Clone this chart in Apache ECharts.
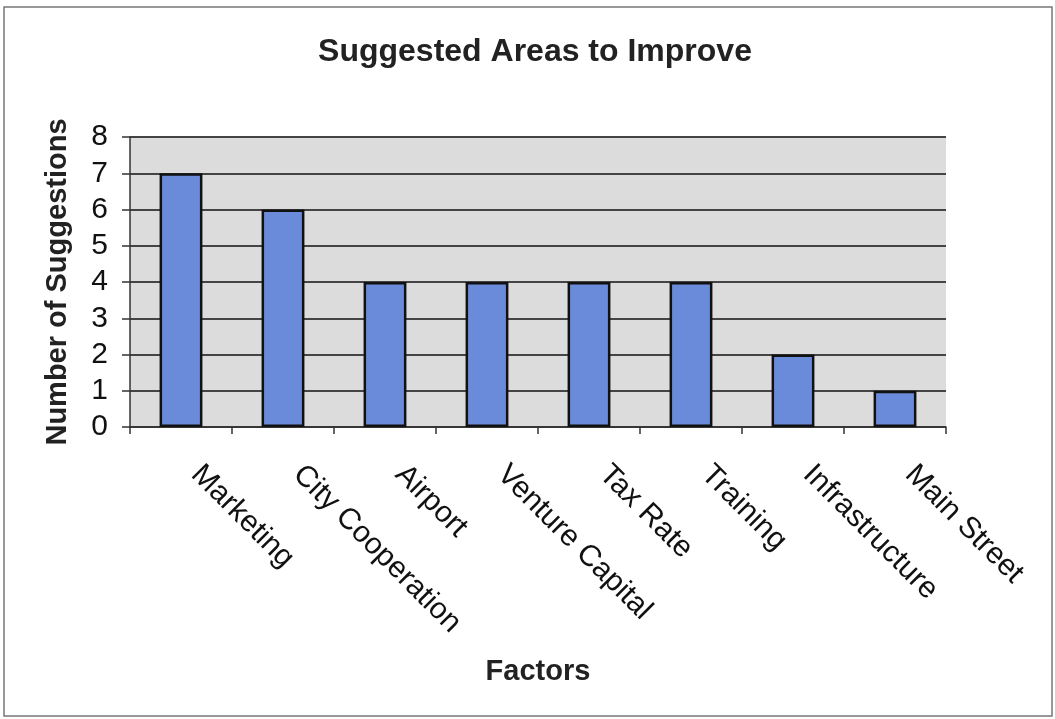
<!DOCTYPE html>
<html>
<head>
<meta charset="utf-8">
<script src="https://cdn.jsdelivr.net/npm/echarts@6/dist/echarts.min.js"></script>
<style>
  html, body { margin: 0; padding: 0; background: #ffffff; }
  #chart { width: 1055px; height: 719px; }
</style>
</head>
<body>
<div id="chart"></div>
<script>
// Factors named by respondents and how often each was suggested
const categories = ['Marketing', 'City Cooperation', 'Airport', 'Venture Capital', 'Tax Rate', 'Training', 'Infrastructure', 'Main Street'];
const suggestions = [7, 6, 4, 4, 4, 4, 2, 1];
const yTicks = [0, 1, 2, 3, 4, 5, 6, 7, 8];

const chart = echarts.init(document.getElementById('chart'));
const sans = 'Arial, "Liberation Sans", sans-serif';

chart.setOption({
  backgroundColor: '#ffffff',
  animation: false,
  title: {
    text: 'Suggested Areas to Improve',
    left: 530,
    top: 31,
    textAlign: 'center',
    textStyle: { fontFamily: sans, fontWeight: 'bold', fontSize: 32, color: '#222222' }
  },
  graphic: [
    {
      type: 'rect',
      shape: { x: 4, y: 7, width: 1048, height: 709 },
      style: { fill: 'none', stroke: '#777777', lineWidth: 1.5 }
    }
  ],
  grid: {
    left: 130, right: 109, top: 137, bottom: 292,
    show: true, backgroundColor: '#dcdcdc', borderWidth: 0
  },
  xAxis: {
    type: 'category',
    data: categories,
    name: 'Factors',
    nameLocation: 'middle',
    nameGap: 230,
    nameTextStyle: { fontFamily: sans, fontWeight: 'bold', fontSize: 29, color: '#222222' },
    axisLine: { lineStyle: { color: '#333333', width: 1.5 } },
    axisTick: { show: true, length: 7, lineStyle: { color: '#333333', width: 1.5 } },
    axisLabel: {
      rotate: -45,
      margin: 28,
      padding: [0, 0, 0, 21],
      fontFamily: sans,
      fontSize: 30,
      color: '#111111'
    }
  },
  yAxis: {
    type: 'value',
    min: yTicks[0],
    max: yTicks[yTicks.length - 1],
    interval: 1,
    name: 'Number of Suggestions',
    nameLocation: 'middle',
    nameGap: 58,
    nameTextStyle: { fontFamily: sans, fontWeight: 'bold', fontSize: 29, color: '#222222' },
    axisLine: { show: true, lineStyle: { color: '#333333', width: 1.5 } },
    axisTick: { show: true, length: 8, lineStyle: { color: '#333333', width: 1.5 } },
    axisLabel: { margin: 22, fontFamily: sans, fontSize: 30, color: '#111111' },
    splitLine: { show: true, lineStyle: { color: '#444444', width: 2 } }
  },
  series: [{
    type: 'bar',
    data: suggestions,
    barWidth: '42%',
    itemStyle: { color: '#6a8bd9', borderColor: '#111111', borderWidth: 2.5 }
  }]
});
</script>
</body>
</html>
